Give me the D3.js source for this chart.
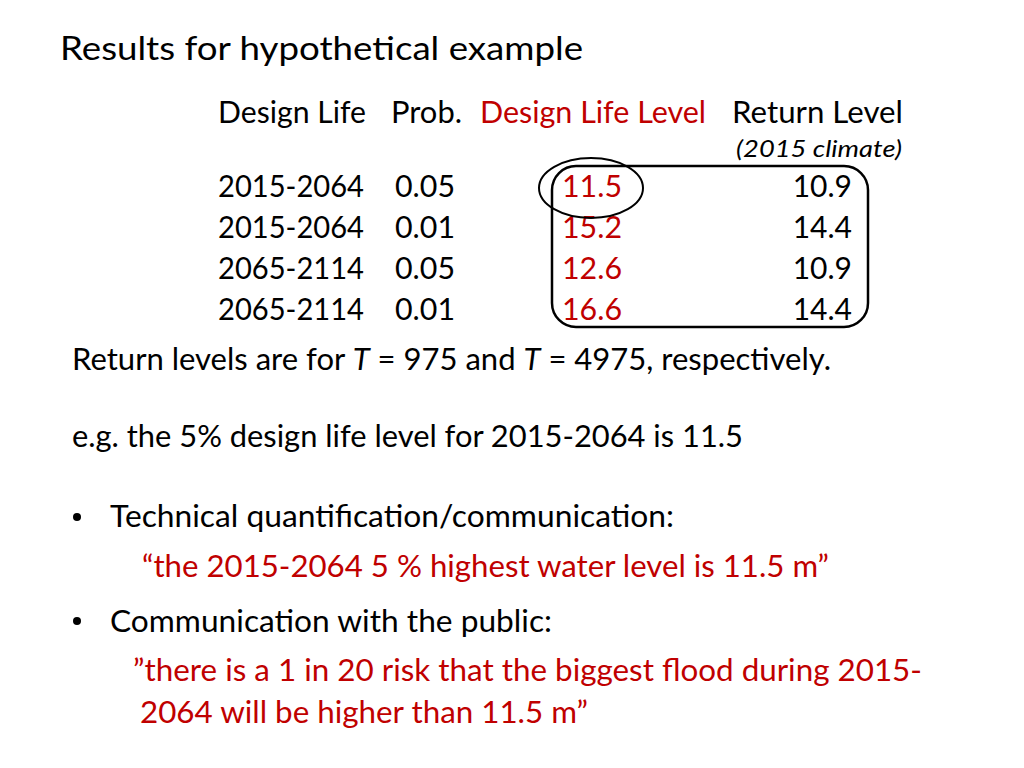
<!DOCTYPE html>
<html>
<head>
<meta charset="utf-8">
<script src="https://cdn.jsdelivr.net/npm/d3@7"></script>
<style>
  body { margin: 0; background: #fff; }
  text { font-family: Lato, "Noto Sans", sans-serif; }
</style>
</head>
<body>
<svg id="slide" width="1024" height="768"></svg>
<script>
// table data
var periods = ["2015-2064", "2015-2064", "2065-2114", "2065-2114"];
var probs = ["0.05", "0.01", "0.05", "0.01"];
var designLevels = [11.5, 15.2, 12.6, 16.6];
var returnLevels = [10.9, 14.4, 10.9, 14.4];
var headers = ["Design Life", "Prob.", "Design Life Level", "Return Level"];

var red = "#c00000",
    ink = "#000";

var svg = d3.select("#slide");

// squeeze text to a measured width (Calibri stand-in)
function fit(sel, w) {
    sel.attr("textLength", w).attr("lengthAdjust", "spacingAndGlyphs");
    return sel;
}

function line(x, y, size, w, color) {
    let t = svg.append("text")
        .attr("x", x).attr("y", y)
        .attr("font-size", size)
        .attr("fill", color || ink);
    if (w) fit(t, w);
    return t;
}

// title
line(60, 60, 33, 523).text("Results for hypothetical example");

// header row
var hx = [218, 391, 480, 732],
    hw = [148, 71, 226, 171];
headers.forEach((h, i) => {
    line(hx[i], 123, 30, hw[i], i == 2 ? red : ink).text(h);
});
line(736, 157, 23, 166).attr("font-style", "italic").text("(2015 climate)");

// rows
var y = d3.scalePoint()
    .domain(d3.range(periods.length))
    .range([197, 320]);

var fmt = d3.format(".1f");

var rows = svg.append("g");
rows.selectAll("text.period").data(periods).enter().append("text")
    .attr("class", "period")
    .attr("x", 218).attr("y", (d, i) => y(i))
    .attr("font-size", 30).attr("fill", ink)
    .attr("textLength", 146).attr("lengthAdjust", "spacingAndGlyphs")
    .text(d => d);

rows.selectAll("text.prob").data(probs).enter().append("text")
    .attr("class", "prob")
    .attr("x", 395).attr("y", (d, i) => y(i))
    .attr("font-size", 30).attr("fill", ink)
    .attr("textLength", 60).attr("lengthAdjust", "spacingAndGlyphs")
    .text(d => d);

rows.selectAll("text.dll").data(designLevels).enter().append("text")
    .attr("class", "dll")
    .attr("x", 562).attr("y", (d, i) => y(i))
    .attr("font-size", 30).attr("fill", red)
    .attr("textLength", 60).attr("lengthAdjust", "spacingAndGlyphs")
    .text(d => fmt(d));

rows.selectAll("text.rl").data(returnLevels).enter().append("text")
    .attr("class", "rl")
    .attr("x", 852).attr("y", (d, i) => y(i))
    .attr("text-anchor", "end")
    .attr("font-size", 30).attr("fill", ink)
    .text(d => fmt(d));

// box round the two level columns, ring round the first value
var boxTop = y(0) - 31,
    boxBottom = y(periods.length - 1) + 7;
svg.append("rect")
    .attr("x", 552).attr("y", boxTop)
    .attr("width", 316).attr("height", boxBottom - boxTop)
    .attr("rx", 24).attr("ry", 24)
    .attr("fill", "none").attr("stroke", ink).attr("stroke-width", 2.5);

svg.append("ellipse")
    .attr("cx", 591).attr("cy", y(0) - 9)
    .attr("rx", 52).attr("ry", 30)
    .attr("fill", "none").attr("stroke", ink).attr("stroke-width", 2);

// notes
var note = line(72, 370, 30, 759);
note.append("tspan").text("Return levels are for ");
note.append("tspan").attr("font-style", "italic").text("T");
note.append("tspan").text(" = 975 and ");
note.append("tspan").attr("font-style", "italic").text("T");
note.append("tspan").text(" = 4975, respectively.");

line(72, 447, 30, 671).text("e.g. the 5% design life level for 2015-2064 is 11.5");

// bullets
svg.append("circle").attr("cx", 77).attr("cy", 517).attr("r", 4).attr("fill", ink);
line(110, 527, 30, 564).text("Technical quantification/communication:");
line(142, 577, 30, 687, red).text("\u201cthe 2015-2064 5 % highest water level is 11.5 m\u201d");

svg.append("circle").attr("cx", 77).attr("cy", 621).attr("r", 4).attr("fill", ink);
line(110, 632, 30, 442).text("Communication with the public:");
line(133, 681, 30, 789, red).text("\u201dthere is a 1 in 20 risk that the biggest flood during 2015-");
line(140, 723, 30, 448, red).text("2064 will be higher than 11.5 m\u201d");
</script>
</body>
</html>
